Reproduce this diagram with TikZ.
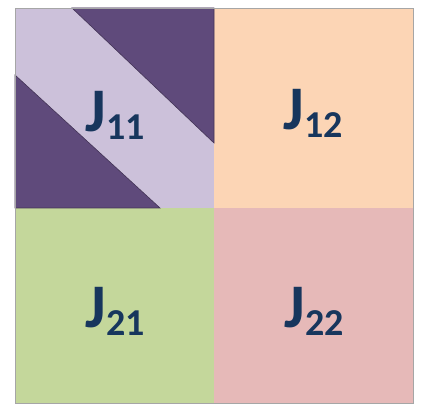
\documentclass[tikz,border=0pt]{standalone}
\usepackage{fontspec}
\setmainfont{Carlito}
\usepackage{xcolor}
\definecolor{lavender}{HTML}{CCC1DA}
\definecolor{plum}{HTML}{5F4A7B}
\definecolor{peach}{HTML}{FCD5B5}
\definecolor{sage}{HTML}{C4D79B}
\definecolor{rose}{HTML}{E6B9B8}
\definecolor{navy}{HTML}{17365D}
\newcommand{\blocklabel}[1]{\fontsize{62}{62}\selectfont J\raisebox{-8pt}{\fontsize{38}{38}\selectfont #1}}

\begin{document}
\begin{tikzpicture}[
x=1pt,y=1pt,
lbl/.style={
anchor=base,
inner sep=0pt,
text=navy,
font=\bfseries
},
tri/.style={
fill=plum,
draw=plum!70!black,
line width=0.6pt
}
]

\useasboundingbox (0,0) rectangle (421,406);

%---------------- Blocks ----------------%

\fill[lavender] (15,198) rectangle (214,398);
\fill[peach] (214,198) rectangle (413,398);
\fill[sage] (15,3) rectangle (214,198);
\fill[rose] (214,3) rectangle (413,198);

\draw[tri] (72,398)--(214,398)--(214,263)--cycle;
\draw[tri] (15,331)--(15,198)--(160,198)--cycle;

\draw[gray!70,line width=0.8pt] (15,3) rectangle (413,398);

%---------------- Labels ----------------%

\node[lbl] (j11) at (115,274) {\blocklabel{11}};
\node[lbl] (j12) at (313,276) {\blocklabel{12}};
\node[lbl] (j21) at (115,78) {\blocklabel{21}};
\node[lbl] (j22) at (314,78) {\blocklabel{22}};

\end{tikzpicture}
\end{document}
